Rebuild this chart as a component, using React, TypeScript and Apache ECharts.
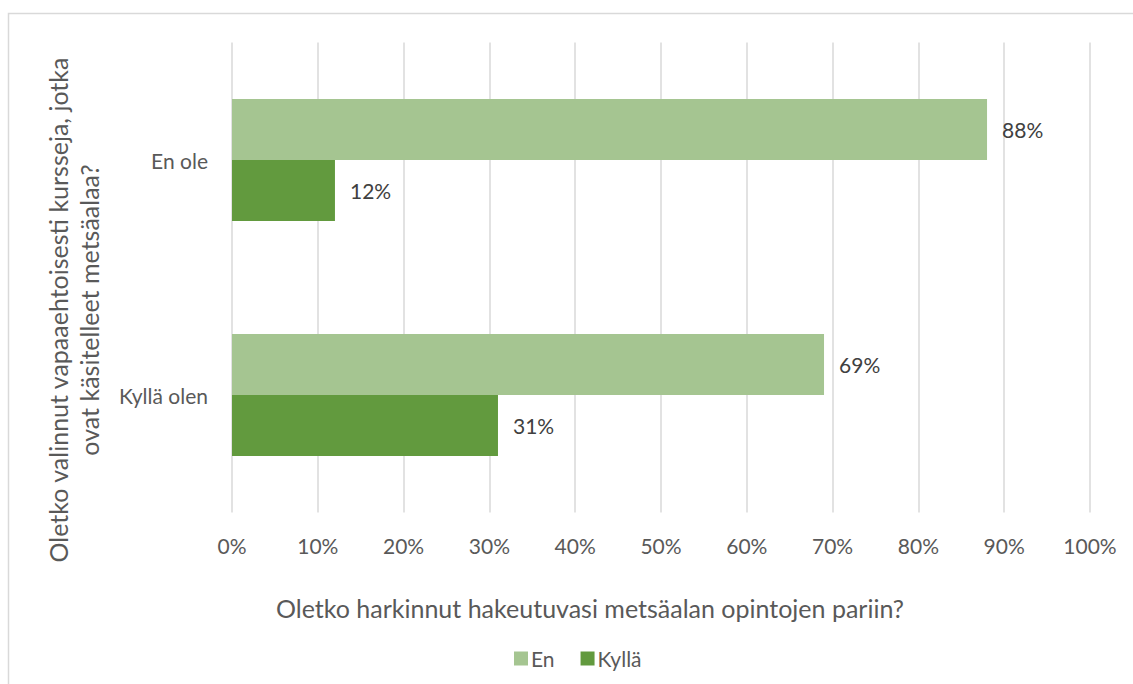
import React, { useEffect, useRef } from "react";
import * as echarts from "echarts";

const categories = ["En ole", "Kyllä olen"];
const seriesNames = ["En", "Kyllä"];
const enValues = [88, 69];
const kyllaValues = [12, 31];
const tickLabels = ["0%", "10%", "20%", "30%", "40%", "50%", "60%", "70%", "80%", "90%", "100%"];
const xTitle = "Oletko harkinnut hakeutuvasi metsäalan opintojen pariin?";
const yTitle = "Oletko valinnut vapaaehtoisesti kursseja, jotka\novat käsitelleet metsäalaa?";

const FONT = "Lato, 'Open Sans', sans-serif";

export default function App() {
  const ref = useRef<HTMLDivElement>(null);
  useEffect(() => {
    if (!ref.current) return;
    const chart = echarts.init(ref.current, undefined, { renderer: "svg" });
    chart.setOption({
      animation: false,
      backgroundColor: "#ffffff",
      textStyle: { fontFamily: FONT },
      grid: { left: 232, right: 43, top: 42.5, bottom: 171.5, containLabel: false },
      legend: {
        data: seriesNames,
        left: 509,
        top: 643,
        itemWidth: 14,
        itemHeight: 14,
        itemGap: 26,
        icon: "rect",
        textStyle: { fontSize: 21, color: "#595959", fontFamily: FONT, padding: [0, 0, 0, -2] },
      },
      xAxis: {
        type: "value",
        min: 0,
        max: 100,
        interval: 10,
        axisLine: { show: false },
        axisTick: { show: false },
        splitLine: { show: true, lineStyle: { color: "#d9d9d9", width: 1.5 } },
        axisLabel: {
          margin: 22,
          fontSize: 21,
          color: "#595959",
          fontFamily: FONT,
          formatter: (v: number) => tickLabels[Math.round(v / 10)],
        },
      },
      yAxis: {
        type: "category",
        data: categories,
        inverse: true,
        axisLine: { show: false },
        axisTick: { show: false },
        axisLabel: { margin: 24, fontSize: 21, color: "#595959", fontFamily: FONT },
      },
      series: [
        {
          name: seriesNames[0],
          type: "bar",
          data: enValues,
          barWidth: 61,
          barGap: "0%",
          itemStyle: { color: "#a5c591" },
          label: {
            show: true,
            position: "right",
            distance: 15,
            formatter: "{c}%",
            fontSize: 21,
            color: "#404040",
            fontFamily: FONT,
          },
        },
        {
          name: seriesNames[1],
          type: "bar",
          data: kyllaValues,
          barWidth: 61,
          barGap: "0%",
          itemStyle: { color: "#629a3e" },
          label: {
            show: true,
            position: "right",
            distance: 15,
            formatter: "{c}%",
            fontSize: 21,
            color: "#404040",
            fontFamily: FONT,
          },
        },
      ],
      graphic: [
        {
          type: "rect",
          shape: { x: 8.5, y: 13.5, width: 1200, height: 800 },
          style: { fill: "none", stroke: "#d9d9d9", lineWidth: 1.5 },
          silent: true,
          z: -1,
        },
        {
          type: "text",
          x: 590,
          y: 608,
          style: {
            text: xTitle,
            fontSize: 25,
            fill: "#595959",
            fontFamily: FONT,
            textAlign: "center",
            textVerticalAlign: "middle",
          },
        },
        {
          type: "text",
          x: 73,
          y: 310,
          rotation: Math.PI / 2,
          style: {
            text: yTitle,
            fontSize: 25,
            lineHeight: 31,
            fill: "#595959",
            fontFamily: FONT,
            textAlign: "center",
            textVerticalAlign: "middle",
          },
        },
      ],
    });
    return () => chart.dispose();
  }, []);
  return (
    <div
      ref={ref}
      style={{ position: "fixed", left: 0, top: 0, width: 1133, height: 684 }}
    />
  );
}
